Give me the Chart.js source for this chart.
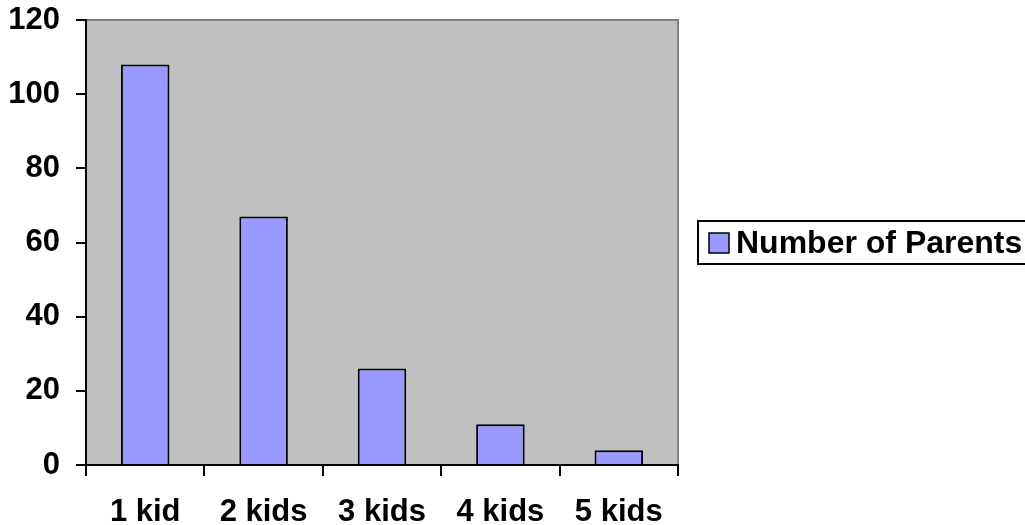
<!DOCTYPE html>
<html>
<head>
<meta charset="utf-8">
<script src="https://cdn.jsdelivr.net/npm/chart.js@4"></script>
<style>
  html, body { margin: 0; padding: 0; background: #ffffff; }
  #wrap { width: 1025px; height: 525px; }
</style>
</head>
<body>
<div id="wrap"><canvas id="kidsChart" width="1025" height="525"></canvas></div>
<script>
const categories = ["1 kid", "2 kids", "3 kids", "4 kids", "5 kids"];
const parentCounts = [108, 67, 26, 11, 4];
const yTicks = [0, 20, 40, 60, 80, 100, 120];
const seriesName = "Number of Parents";

const FONT = "'Liberation Sans', Arial, sans-serif";
const FONT_SIZE = 31;

// grey plot background plus the grey frame on top and right
const plotFrame = {
  id: "plotFrame",
  beforeDraw(chart) {
    const { ctx, chartArea: a } = chart;
    ctx.save();
    ctx.fillStyle = "#c0c0c0";
    ctx.fillRect(a.left, a.top, a.right - a.left, a.bottom - a.top);
    ctx.strokeStyle = "#808080";
    ctx.lineWidth = 2;
    ctx.beginPath();
    ctx.moveTo(a.left, a.top);
    ctx.lineTo(a.right, a.top);
    ctx.lineTo(a.right, a.bottom);
    ctx.stroke();
    ctx.restore();
  }
};

// boxed legend to the right of the plot
const boxLegend = {
  id: "boxLegend",
  afterDraw(chart) {
    const { ctx } = chart;
    const ds = chart.data.datasets[0];
    const x = 698, y = 221, w = 340, h = 43;
    ctx.save();
    ctx.fillStyle = "#ffffff";
    ctx.fillRect(x, y, w, h);
    ctx.strokeStyle = "#000000";
    ctx.lineWidth = 2;
    ctx.strokeRect(x, y, w, h);
    ctx.fillStyle = ds.backgroundColor;
    ctx.fillRect(709, 233, 20, 20);
    ctx.lineWidth = 1.5;
    ctx.strokeRect(709, 233, 20, 20);
    ctx.fillStyle = "#000000";
    ctx.font = "bold 32px " + FONT;
    ctx.textBaseline = "middle";
    ctx.fillText(ds.label, 736, 244);
    ctx.restore();
  }
};

new Chart(document.getElementById("kidsChart"), {
  type: "bar",
  data: {
    labels: categories,
    datasets: [
      {
        label: seriesName,
        data: parentCounts,
        backgroundColor: "#9999ff",
        borderColor: "#000000",
        borderWidth: 2,
        barPercentage: 0.41,
        categoryPercentage: 1.0,
      },
    ],
  },
  options: {
    responsive: false,
    animation: false,
    layout: { padding: { top: 20, right: 347, left: 0, bottom: 0 } },
    plugins: {
      legend: { display: false },
      tooltip: { enabled: false },
    },
    scales: {
      y: {
        min: 0,
        max: 120,
        afterFit: (s) => {
          s.width = 86;
          s.paddingTop = 0;
          s.paddingBottom = 0;
        },
        afterBuildTicks: (s) => { s.ticks = yTicks.map((v) => ({ value: v })); },
        ticks: {
          color: "#000000",
          font: { family: FONT, size: FONT_SIZE, weight: "bold" },
          padding: 16,
        },
        grid: {
          drawOnChartArea: false,
          color: "#000000",
          tickLength: 10,
          lineWidth: 2,
        },
        border: { color: "#000000", width: 2 },
      },
      x: {
        afterFit: (s) => {
          s.height = 60;
          s.paddingLeft = 0;
          s.paddingRight = 0;
        },
        ticks: {
          color: "#000000",
          font: { family: FONT, size: FONT_SIZE, weight: "bold" },
          padding: 18,
          maxRotation: 0,
        },
        grid: {
          offset: true,
          drawOnChartArea: false,
          color: "#000000",
          tickLength: 11,
          lineWidth: 2,
        },
        border: { color: "#000000", width: 2 },
      },
    },
  },
  plugins: [plotFrame, boxLegend],
});
</script>
</body>
</html>
